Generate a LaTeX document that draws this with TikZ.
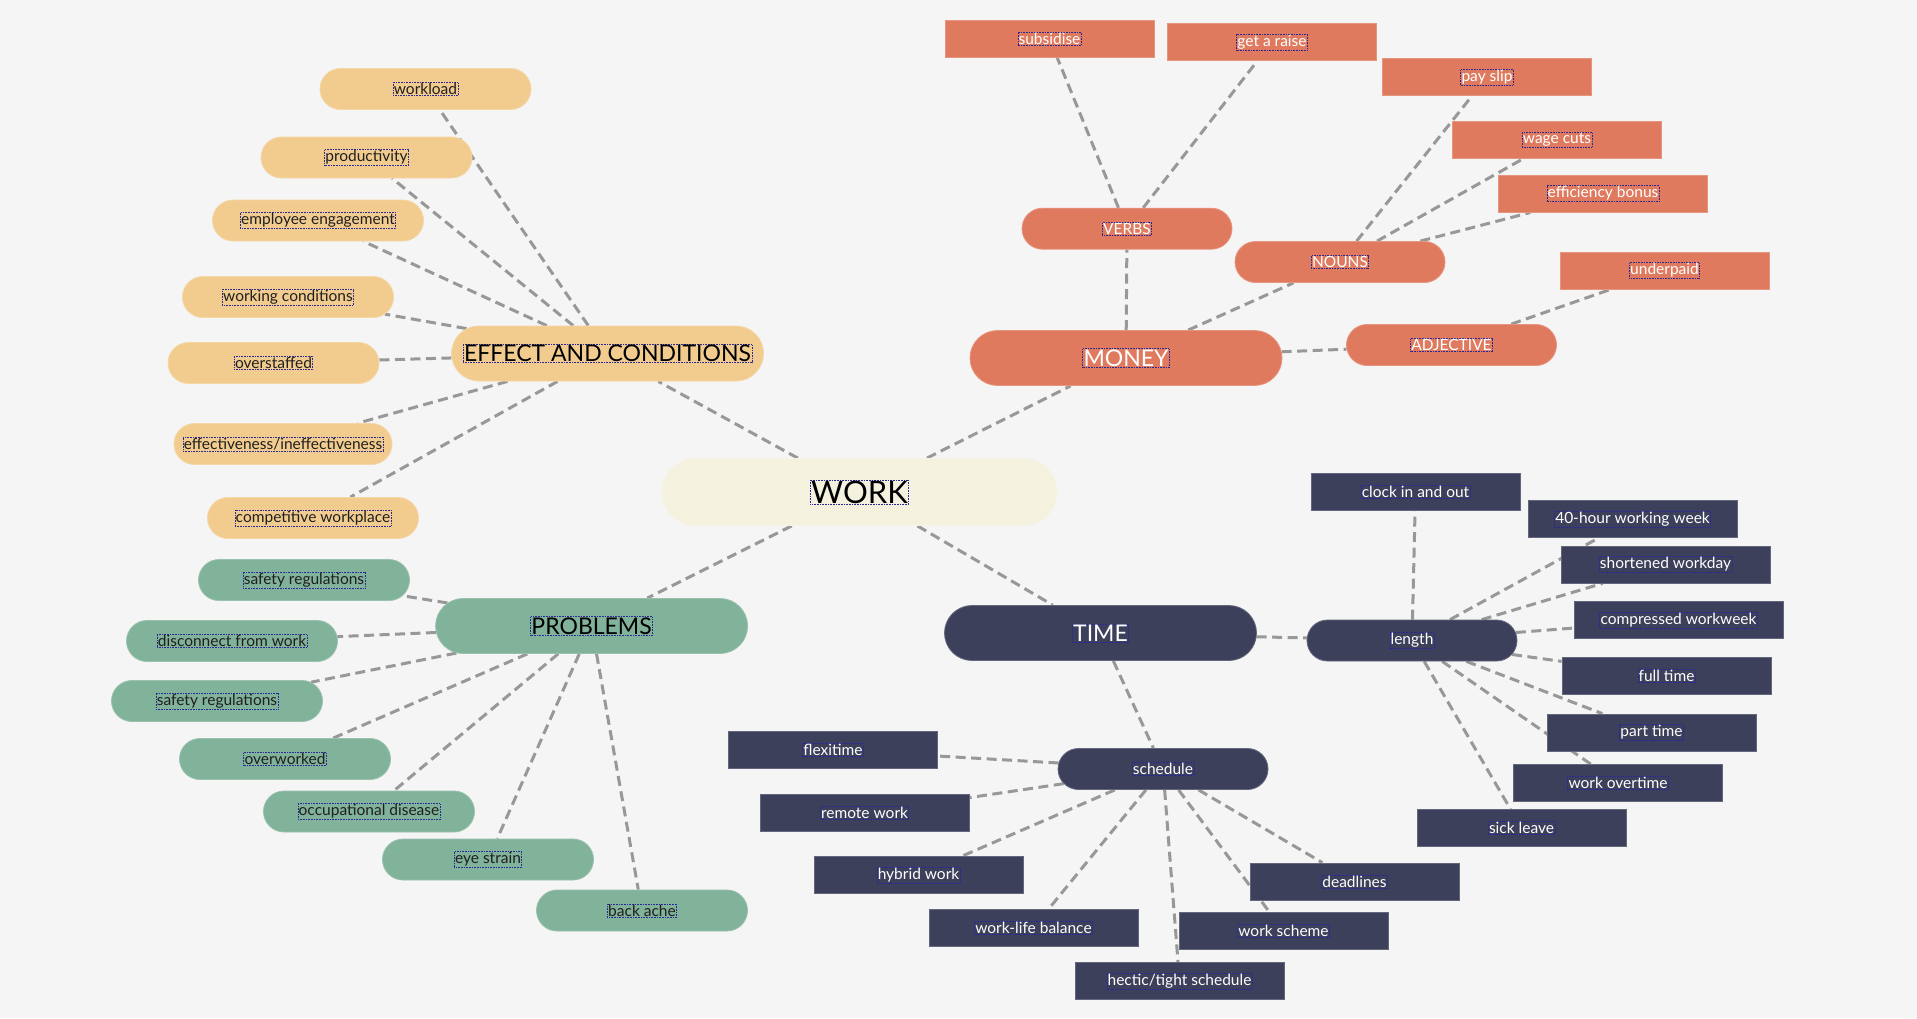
\documentclass[tikz,border=0pt]{standalone}
\usepackage{fontspec}
\setmainfont{Lato}
\usetikzlibrary{positioning, shapes.misc, backgrounds}

\definecolor{paper}{RGB}{245,245,245}
\definecolor{sand}{RGB}{242,204,143}
\definecolor{coral}{RGB}{224,122,95}
\definecolor{sage}{RGB}{129,178,154}
\definecolor{slate}{RGB}{61,64,91}
\definecolor{cream}{RGB}{244,241,222}
\definecolor{linkgray}{RGB}{152,152,152}
\definecolor{tagblue}{RGB}{40,40,150}

\tikzset{
  pill/.style={rounded rectangle, fill=#1, draw=#1!80!white, line width=0.8pt, inner sep=0pt},
  hub/.style={pill=cream, minimum width=395pt, minimum height=67pt},
  branch/.style={pill=#1, minimum width=312pt, minimum height=55pt},
  twig/.style={pill=#1, minimum width=210pt, minimum height=41pt},
  leaf/.style={pill=#1, minimum width=211pt, minimum height=41pt},
  tile/.style={rectangle, fill=#1, draw=#1!80!white, line width=0.8pt, inner sep=0pt,
    minimum width=209pt, minimum height=37pt},
  tag/.style={draw=tagblue, densely dotted, line width=0.6pt, inner sep=0.8pt,
    font=\fontsize{15.5}{18}\selectfont, text=black!88},
  tagw/.style={tag, text=white},
  tagbig/.style={tag, font=\fontsize{23}{27}\selectfont, text=black},
  link/.style={draw=linkgray, line width=3pt, dash pattern=on 10pt off 5.5pt},
}

\begin{document}
\begin{tikzpicture}[x=1pt, y=-1pt]

    \useasboundingbox (0,0) rectangle (1917,1018);

    % centre
    \node[hub, label={[tag, font=\fontsize{31}{36}\selectfont, text=black]center:WORK}] (work) at (859.5,492) {};

    % effect and conditions
    \node[branch=sand, label={[tagbig]center:EFFECT AND CONDITIONS}] (eff) at (607.5,353.5) {};

    \node[leaf=sand, label={[tag]center:workload}] (wl) at (425.5,89) {};
    \node[leaf=sand, label={[tag]center:productivity}] (pr) at (366.5,157.5) {};
    \node[leaf=sand, label={[tag]center:employee engagement}] (ee) at (318,220.5) {};
    \node[leaf=sand, label={[tag]center:working conditions}] (wc) at (288,297) {};
    \node[leaf=sand, label={[tag]center:overstaffed}] (os) at (273.5,363) {};
    \node[leaf=sand, minimum width=218pt,
      label={[tag]center:effectiveness/ineffectiveness}] (ei) at (283,444) {};
    \node[leaf=sand, label={[tag]center:competitive workplace}] (cw) at (313,518) {};

    % money
    \node[branch=coral, label={[tagbig, text=white]center:MONEY}] (money) at (1126,358) {};

    \node[twig=coral, label={[tagw]center:VERBS}] (verbs) at (1127,228.7) {};
    \node[twig=coral, label={[tagw]center:NOUNS}] (nouns) at (1340,262) {};
    \node[twig=coral, label={[tagw]center:ADJECTIVE}] (adj) at (1451.5,345) {};

    \node[tile=coral, label={[tagw]center:subsidise}] (sub) at (1049.5,38.7) {};
    \node[tile=coral, label={[tagw]center:get a raise}] (raise) at (1272,42) {};
    \node[tile=coral, label={[tagw]center:pay slip}] (slip) at (1487,77) {};
    \node[tile=coral, label={[tagw]center:wage cuts}] (cuts) at (1557,139.6) {};
    \node[tile=coral, label={[tagw]center:efficiency bonus}] (bonus) at (1603,193.6) {};
    \node[tile=coral, label={[tagw]center:underpaid}] (under) at (1664.5,270.5) {};

    % problems
    \node[branch=sage, label={[tagbig]center:PROBLEMS}] (prob) at (591.6,626) {};

    \node[leaf=sage, label={[tag]center:safety regulations}] (sr) at (304,580) {};
    \node[leaf=sage, label={[tag]center:disconnect from work}] (dw) at (232,641) {};
    \node[leaf=sage, label={[tag]center:safety regulations}] (sr2) at (217,701) {};
    \node[leaf=sage, label={[tag]center:overworked}] (ow) at (285,759) {};
    \node[leaf=sage, label={[tag]center:occupational disease}] (od) at (369,811.5) {};
    \node[leaf=sage, label={[tag]center:eye strain}] (es) at (488,859.5) {};
    \node[leaf=sage, label={[tag]center:back ache}] (ba) at (642,910.5) {};

    % time
    \node[branch=slate, label={[tagbig, text=white]center:TIME}] (time) at (1100.5,633) {};

    \node[twig=slate, label={[tagw]center:length}] (len) at (1412,640.5) {};
    \node[twig=slate, label={[tagw]center:schedule}] (sched) at (1163,769) {};

    \node[tile=slate, label={[tagw]center:clock in and out}] (clock) at (1415.5,491.5) {};
    \node[tile=slate, label={[tagw]center:40-hour working week}] (fortyh) at (1632.5,519.3) {};
    \node[tile=slate, label={[tagw]center:shortened workday}] (short) at (1665.5,564.5) {};
    \node[tile=slate, label={[tagw]center:compressed workweek}] (comp) at (1678.5,620) {};
    \node[tile=slate, label={[tagw]center:full time}] (full) at (1666.5,676) {};
    \node[tile=slate, label={[tagw]center:part time}] (part) at (1651.5,732.5) {};
    \node[tile=slate, label={[tagw]center:work overtime}] (over) at (1618,783) {};
    \node[tile=slate, label={[tagw]center:sick leave}] (sick) at (1521.5,828) {};

    \node[tile=slate, label={[tagw]center:flexitime}] (flexi) at (833,750) {};
    \node[tile=slate, label={[tagw]center:remote work}] (remote) at (864.5,813) {};
    \node[tile=slate, label={[tagw]center:hybrid work}] (hybrid) at (918.5,875) {};
    \node[tile=slate, label={[tagw]center:work-life balance}] (wlb) at (1033.5,927.5) {};
    \node[tile=slate, label={[tagw]center:hectic/tight schedule}] (hectic) at (1179.5,981) {};
    \node[tile=slate, label={[tagw]center:work scheme}] (scheme) at (1283.5,931) {};
    \node[tile=slate, label={[tagw]center:deadlines}] (dead) at (1354.5,881.5) {};

    % links under the nodes
    \begin{scope}[on background layer]
      \fill[paper] (0,0) rectangle (1917,1018);

      \draw[link] (work)--(eff);
      \draw[link] (work)--(money);
      \draw[link] (work)--(prob);
      \draw[link] (work)--(time);

      \draw[link] (eff)--(wl);
      \draw[link] (eff)--(pr);
      \draw[link] (eff)--(ee);
      \draw[link] (eff)--(wc);
      \draw[link] (eff)--(os);
      \draw[link] (eff)--(ei);
      \draw[link] (eff)--(cw);

      \draw[link] (money)--(verbs);
      \draw[link] (money)--(nouns);
      \draw[link] (money)--(adj);
      \draw[link] (verbs)--(sub);
      \draw[link] (verbs)--(raise);
      \draw[link] (nouns)--(slip);
      \draw[link] (nouns)--(cuts);
      \draw[link] (nouns)--(bonus);
      \draw[link] (adj)--(under);

      \draw[link] (prob)--(sr);
      \draw[link] (prob)--(dw);
      \draw[link] (prob)--(sr2);
      \draw[link] (prob)--(ow);
      \draw[link] (prob)--(od);
      \draw[link] (prob)--(es);
      \draw[link] (prob)--(ba);

      \draw[link] (time)--(len);
      \draw[link] (time)--(sched);

      \draw[link] (len)--(clock);
      \draw[link] (len)--(fortyh);
      \draw[link] (len)--(short);
      \draw[link] (len)--(comp);
      \draw[link] (len)--(full);
      \draw[link] (len)--(part);
      \draw[link] (len)--(over);
      \draw[link] (len)--(sick);

      \draw[link] (sched)--(flexi);
      \draw[link] (sched)--(remote);
      \draw[link] (sched)--(hybrid);
      \draw[link] (sched)--(wlb);
      \draw[link] (sched)--(hectic);
      \draw[link] (sched)--(scheme);
      \draw[link] (sched)--(dead);
    \end{scope}
\end{tikzpicture}
\end{document}
